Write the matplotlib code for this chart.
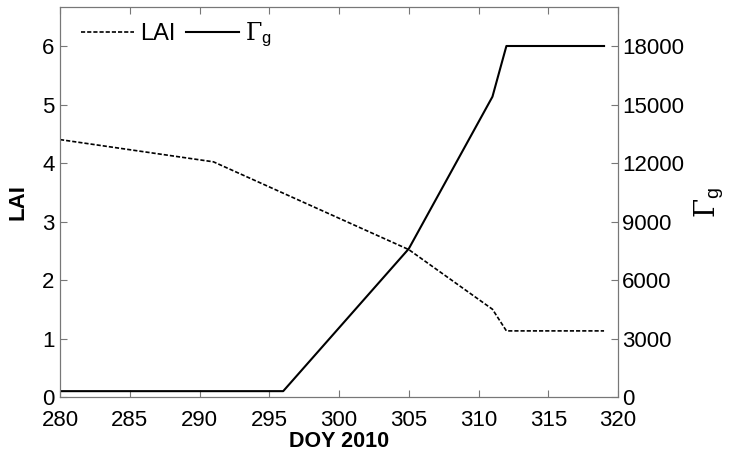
import matplotlib
matplotlib.use("Agg")
import matplotlib.pyplot as plt

plt.rcParams['font.family'] = ['Liberation Sans', 'DejaVu Sans']
plt.rcParams['mathtext.fontset'] = 'custom'
plt.rcParams['mathtext.rm'] = 'DejaVu Serif'
plt.rcParams['mathtext.it'] = 'DejaVu Serif:italic'
plt.rcParams['mathtext.sf'] = 'Liberation Sans'

doy_lai = [280, 291, 305, 311, 312, 319]
lai = [4.40, 4.02, 2.52, 1.50, 1.13, 1.13]
doy_g = [280, 296, 305, 311, 312, 319]
gamma_g = [300, 300, 7600, 15400, 18000, 18000]
x_ticks = [280, 285, 290, 295, 300, 305, 310, 315, 320]
lai_ticks = [0, 1, 2, 3, 4, 5, 6]
g_ticks = [0, 3000, 6000, 9000, 12000, 15000, 18000]

gamma_label = r'$\mathrm{\Gamma}_{\mathsf{g}}$'

fig = plt.figure(figsize=(7.29, 4.61), dpi=100)
ax = fig.add_axes([60/729, 1-397/461, 558/729, 390/461])
ax2 = ax.twinx()

l1, = ax.plot(doy_lai, lai, color='black', ls=(0, (2.5, 1.2)), lw=1.2, label='LAI')
l2, = ax2.plot(doy_g, gamma_g, color='black', ls='-', lw=1.5, label=gamma_label)

ax.set_xlim(280, 320)
ax.set_ylim(0, 20/3)
ax2.set_ylim(0, 20000)
ax.set_xticks(x_ticks)
ax.set_yticks(lai_ticks)
ax2.set_yticks(g_ticks)

for a in (ax, ax2):
    for s in a.spines.values():
        s.set_color('#777777')
    a.tick_params(direction='in', length=5, color='#777777', labelsize=16)
ax.tick_params(axis='x', top=True, pad=9)
ax.tick_params(axis='y', right=False, pad=4)
ax2.tick_params(axis='y', right=True, left=False, pad=3)

ax.set_xlabel('DOY 2010', fontsize=15.5, fontweight='bold', labelpad=0)
ax.set_ylabel('LAI', fontsize=16, fontweight='bold', labelpad=10)
ax2.set_ylabel(gamma_label, fontsize=20, labelpad=6)

ax.legend(handles=[l1, l2], loc='upper left', ncol=2, frameon=False,
          fontsize=17, handlelength=2.25, columnspacing=0.45, handletextpad=0.25,
          borderaxespad=0.5, borderpad=0.4, bbox_to_anchor=(0.0, 1.02))

fig.savefig('out.png', dpi=100)
